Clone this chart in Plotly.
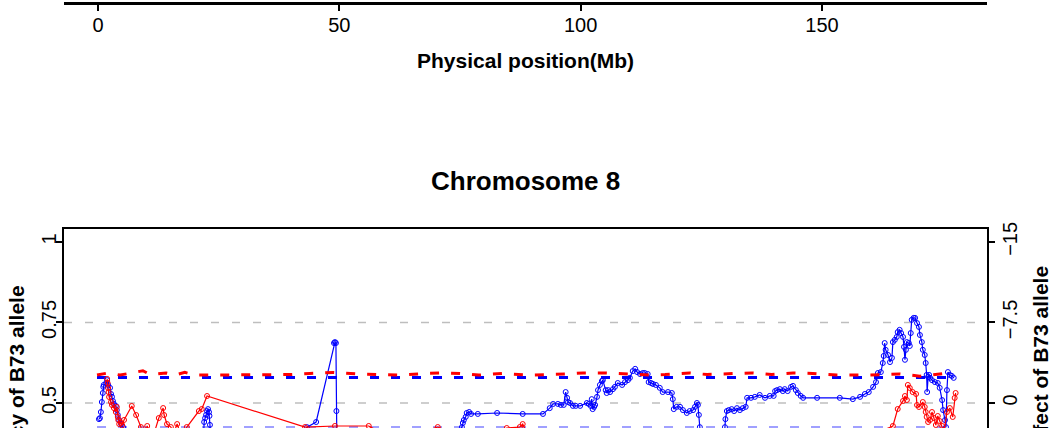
import plotly.graph_objects as go

# ---------------- data ----------------
x_ticks = [0, 50, 100, 150]
left_ticks = [0.5, 0.75, 1]
left_ticktext = ["0.5", "0.75", "1"]
right_ticks = [0, -7.5, -15]
right_ticktext = ["0", "\u22127.5", "\u221215"]

# frequency of B73 allele (blue, left axis)
blue_pos = [0.2, 0.4, 0.6, 0.8, 1.0, 1.1, 1.2, 1.7, 1.9, 2.1, 2.5, 2.7, 2.9, 3.1, 3.3, 3.7, 3.9, 4.1, 4.4, 4.8, 5.2, 5.6,
            8.0, 14.0, 20.0,
            21.8, 22.0, 22.2, 22.4, 22.6, 22.8, 23.0, 23.1, 23.2, 23.4,
            30.0, 40.0, 43.3, 45.2, 48.9, 49.1, 49.3, 49.4, 49.5,
            55.0, 65.0, 72.9,
            75.4, 75.6, 75.8, 76.2, 76.4, 76.9, 77.3, 78.7, 82.7, 88.0, 92.2, 93.6, 94.3, 95.3, 95.9, 96.5,
            96.9, 97.2, 97.4, 97.8, 98.4, 99.0, 99.9, 101.3, 101.7, 102.1, 102.3, 102.5, 102.8, 103.0,
            103.4, 103.6, 104.0, 104.4, 104.6, 105.2, 105.4, 105.7, 106.1, 106.7, 107.1, 107.7, 108.6,
            109.2, 109.8, 110.2, 110.8, 111.3, 111.7, 112.3, 112.9, 113.3, 113.9, 114.1, 114.6, 115.0,
            115.6, 116.4, 117.0, 118.1, 118.9, 119.1, 119.3, 119.9, 120.6, 121.2, 122.0, 122.6, 123.3,
            123.7, 124.1, 124.3, 124.5, 124.7, 124.8,
            128.0, 129.7,
            129.9, 130.0, 130.3, 130.7, 131.3, 131.8, 132.4, 133.0, 133.6, 134.2, 134.5, 135.3, 136.1,
            137.1, 138.2, 139.2, 140.0, 140.3, 140.7, 141.3, 141.9, 142.3, 142.9, 143.6, 144.0, 144.6,
            145.0, 145.6, 146.1, 149.0, 153.7, 156.4, 157.9, 158.9, 159.7, 160.6, 161.2, 161.6, 162.2,
            162.6, 162.8, 163.0, 163.2, 163.7, 164.1, 164.5, 164.7, 165.1, 165.5, 165.7, 166.1, 166.4,
            166.8, 167.0, 167.2, 167.4, 167.6, 168.0, 168.2, 168.4, 168.6, 169.0, 169.3, 169.7, 170.1,
            170.3, 170.7, 170.9, 171.3, 171.5, 171.7, 171.8, 172.0, 172.2, 172.4, 172.8, 173.4, 174.0,
            174.4, 174.9, 175.1, 175.5, 175.7, 175.9, 176.1, 176.5, 176.9, 177.3]
blue_freq = [0.450, 0.453, 0.472, 0.503, 0.531, 0.550, 0.556, 0.562, 0.571, 0.556, 0.547, 0.528, 0.519, 0.506, 0.497,
             0.491, 0.478, 0.463, 0.447, 0.435, 0.425, 0.385,
             0.33, 0.30, 0.32,
             0.370, 0.441, 0.453, 0.463, 0.475, 0.481, 0.472, 0.460, 0.432, 0.370,
             0.33, 0.35, 0.425, 0.441, 0.686, 0.689, 0.686, 0.475, 0.370,
             0.33, 0.35, 0.37,
             0.425, 0.438, 0.447, 0.457, 0.469, 0.472, 0.466, 0.466, 0.469, 0.466, 0.466, 0.484, 0.497, 0.497,
             0.494, 0.494,
             0.534, 0.516, 0.503, 0.500, 0.491, 0.491, 0.491, 0.500, 0.497, 0.491, 0.512, 0.481, 0.488, 0.494,
             0.519, 0.540, 0.556, 0.568, 0.571, 0.540, 0.531, 0.540, 0.534, 0.543, 0.550, 0.562, 0.556,
             0.565, 0.571, 0.578, 0.599, 0.606, 0.596, 0.590, 0.593, 0.593, 0.590, 0.565, 0.562, 0.559,
             0.556, 0.547, 0.534, 0.534, 0.531, 0.512, 0.481, 0.488, 0.488, 0.478, 0.469, 0.475, 0.478,
             0.488, 0.500, 0.494, 0.463, 0.425, 0.36,
             0.33, 0.37,
             0.425, 0.450, 0.475, 0.478, 0.481, 0.475, 0.484, 0.478, 0.484, 0.488, 0.516, 0.516, 0.519,
             0.525, 0.516, 0.522, 0.522, 0.537, 0.540, 0.543, 0.537, 0.543, 0.537, 0.550, 0.553, 0.540,
             0.531, 0.522, 0.516, 0.516, 0.516, 0.512, 0.519, 0.528, 0.534, 0.550, 0.565, 0.593, 0.596,
             0.624, 0.646, 0.686, 0.665, 0.649, 0.627, 0.640, 0.689, 0.696, 0.705, 0.720, 0.727, 0.717,
             0.705, 0.674, 0.634, 0.665, 0.689, 0.686, 0.677, 0.717, 0.758, 0.764, 0.764, 0.748, 0.736,
             0.711, 0.689, 0.665, 0.649, 0.624, 0.587, 0.534, 0.581, 0.587, 0.578, 0.571, 0.565, 0.562,
             0.547, 0.509, 0.478, 0.447, 0.425, 0.540, 0.596, 0.587, 0.584, 0.578]

# additive effect of B73 allele (red, right axis)
red_pos = [1.9, 2.0, 2.1, 2.2, 2.3, 2.7, 2.9, 3.3, 3.7, 3.9, 4.1, 4.2, 4.4, 4.8, 5.0, 5.4, 7.0, 7.9, 8.9, 9.5,
           10.2, 11.2, 12.6, 13.5, 13.7, 14.3, 15.1, 15.7, 16.4, 17.2, 18.4, 20.9, 21.5, 22.6,
           42.9, 49.1, 56.1, 61.5, 70.4, 77.1, 84.7, 87.4, 88.0, 88.9, 92.6, 124.7, 155.8,
           164.7, 165.7, 166.8, 167.2, 167.6, 167.8, 168.2, 168.8, 169.5, 169.7, 170.1, 170.9, 171.3,
           171.5, 171.7, 172.0, 172.4, 172.8, 173.2, 173.6, 174.0, 174.4, 174.9, 175.3, 175.9, 176.5,
           177.1, 177.5, 177.7]
red_effect = [-2.24, -1.86, -1.40, -1.02, -0.56, -0.09, 0.19, 0.47, 0.84, 0.37, 1.30, 1.58, 1.96, 1.86, 2.05,
              1.58, 0.28, 1.12, 2.24, 3.45, 2.14, 3.45, 1.40, 0.47, 1.12, 1.96, 2.24, 2.80, 1.96, 2.98,
              2.24, 0.75, 0.56, -0.65,
              2.24, 2.14, 2.14, 3.45, 2.24, 3.45, 2.33, 2.24, 1.96, 2.80, 3.91, 4.38, 3.91,
              2.14, 0.56, -0.19, -0.65, -0.28, -1.68, -1.40, -1.02, -0.84, 0.19, 0.37, -0.09, 0.37,
              0.84, 1.30, 1.77, 1.58, 0.84, 1.40, 2.05, 1.21, 1.68, 2.14, 2.70, 0.84, 0.47,
              1.30, -0.47, -0.93]

# significance thresholds
blue_thr_pos = [-0.2, 177.3]
blue_thr = [0.579, 0.579]
low_thr_pos = [-0.2, 177.3]
low_thr = [0.4245, 0.4245]
red_thr_pos = [-0.2, 2.1, 4.6, 9.3, 10.8, 14.1, 16.0, 18.0, 20.1, 27.3, 39.8, 43.9, 48.7, 54.3, 62.6, 67.7,
               71.5, 75.0, 78.9, 83.7, 89.5, 97.4, 100.5, 105.4, 109.8, 114.4, 117.5, 122.6, 126.2, 130.9,
               135.5, 139.6, 144.0, 148.1, 153.1, 159.9, 166.1, 170.3, 172.4, 176.5]
red_thr = [-2.6, -2.8, -2.6, -3.0, -2.65, -2.8, -2.6, -2.85, -2.6, -2.6, -2.65, -2.75, -2.85, -2.7, -2.6,
           -2.75, -2.8, -2.75, -2.6, -2.75, -2.6, -2.7, -2.8, -2.8, -2.7, -2.6, -2.65, -2.8, -2.65, -2.75,
           -2.8, -2.65, -2.8, -2.75, -2.6, -2.6, -2.7, -2.5, -2.6, -2.8]

grid_vals = [0.5, 0.75]

FONT = "Liberation Sans, Arial, Helvetica, sans-serif"
BLUE = "#0000FF"
RED = "#FF0000"

fig = go.Figure()

# empty trace for the upper (previous chromosome) panel
fig.add_trace(go.Scatter(x=[None], y=[None], xaxis="x", yaxis="y", showlegend=False, hoverinfo="skip"))

fig.add_trace(go.Scatter(x=low_thr_pos, y=low_thr, xaxis="x2", yaxis="y2", mode="lines",
                         line=dict(color="#A0A0FF", width=2.5, dash="9px,12px"), showlegend=False))
fig.add_trace(go.Scatter(x=blue_pos, y=blue_freq, xaxis="x2", yaxis="y2", mode="lines+markers",
                         line=dict(color=BLUE, width=1.2),
                         marker=dict(symbol="circle-open", size=5, color=BLUE, line=dict(width=1, color=BLUE)),
                         showlegend=False))
fig.add_trace(go.Scatter(x=red_pos, y=red_effect, xaxis="x2", yaxis="y3", mode="lines+markers",
                         line=dict(color=RED, width=1.2),
                         marker=dict(symbol="circle-open", size=5, color=RED, line=dict(width=1, color=RED)),
                         showlegend=False))
fig.add_trace(go.Scatter(x=blue_thr_pos, y=blue_thr, xaxis="x2", yaxis="y2", mode="lines",
                         line=dict(color=BLUE, width=3, dash="9px,12px"), showlegend=False))
fig.add_trace(go.Scatter(x=red_thr_pos, y=red_thr, xaxis="x2", yaxis="y3", mode="lines",
                         line=dict(color=RED, width=3, dash="9px,12px"), showlegend=False))

xrange = [-7.04, 184.2]
tickfont = dict(family=FONT, size=20, color="black")

shapes = []
for g in grid_vals:
    shapes.append(dict(type="line", xref="x2 domain", x0=0, x1=1, yref="y2", y0=g, y1=g,
                       line=dict(color="#BEBEBE", width=1.5, dash="8px,13px"), layer="below"))

fig.update_layout(
    width=1054, height=428,
    margin=dict(l=64, r=67, t=0, b=0, autoexpand=False),
    plot_bgcolor="white", paper_bgcolor="white",
    showlegend=False,
    xaxis=dict(domain=[0, 1], anchor="y", range=xrange, tickvals=x_ticks, ticks="outside", ticklen=6,
               tickwidth=1.5, tickcolor="black", showline=True, linecolor="black", linewidth=2.5,
               showgrid=False, zeroline=False, tickfont=tickfont, automargin=False, ticklabelstandoff=-3),
    yaxis=dict(domain=[0.9953, 1], anchor="x", visible=False, range=[0, 1], automargin=False),
    xaxis2=dict(domain=[0, 1], anchor="y2", range=xrange, side="top", showline=True, linecolor="black",
                linewidth=2, ticks="", showticklabels=False, showgrid=False, zeroline=False, automargin=False),
    yaxis2=dict(domain=[0, 0.465], anchor="x2", range=[0.4224, 1.04], tickvals=left_ticks,
                ticktext=left_ticktext, tickangle=-90, ticks="outside", ticklen=6, tickwidth=1.5,
                tickcolor="black", showline=True, linecolor="black", linewidth=2, showgrid=False,
                zeroline=False, tickfont=tickfont, automargin=False, ticklabelstandoff=-8),
    yaxis3=dict(overlaying="y2", side="right", anchor="x2", range=[2.328, -16.2], tickvals=right_ticks,
                ticktext=right_ticktext, tickangle=-90, ticks="outside", ticklen=6, tickwidth=1.5,
                tickcolor="black", showline=True, linecolor="black", linewidth=2, showgrid=False,
                zeroline=False, tickfont=tickfont, automargin=False, ticklabelstandoff=-2),
    shapes=shapes,
    annotations=[
        dict(text="<b>Physical position(Mb)</b>", xref="paper", yref="paper", x=0.5, y=1 - 60 / 428,
             xanchor="center", yanchor="middle", showarrow=False, font=dict(family=FONT, size=21, color="black")),
        dict(text="<b>Chromosome 8</b>", xref="paper", yref="paper", x=0.5, y=1 - 181 / 428,
             xanchor="center", yanchor="middle", showarrow=False, font=dict(family=FONT, size=26, color="black")),
        dict(text="<b>Frequency of B73 allele</b>", xref="paper", yref="paper", x=(16 - 64) / 923,
             y=1 - 403 / 428, xanchor="center", yanchor="middle", textangle=-90, showarrow=False,
             font=dict(family=FONT, size=21, color="black")),
        dict(text="<b>Additive effect of B73 allele</b>", xref="paper", yref="paper", x=(1040 - 64) / 923,
             y=1 - 403 / 428, xanchor="center", yanchor="middle", textangle=-90, showarrow=False,
             font=dict(family=FONT, size=21, color="black")),
    ],
)

fig.write_html("out.html", config={"displayModeBar": False},
               post_script="document.body.style.margin='0px';")
